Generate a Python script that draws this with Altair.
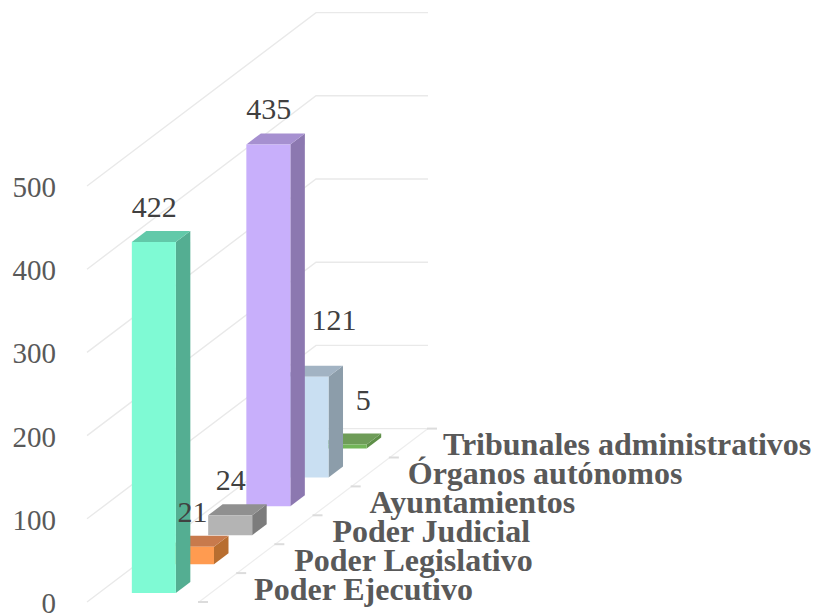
import altair as alt
import pandas as pd

categories = ["Poder Ejecutivo", "Poder Legislativo", "Poder Judicial",
              "Ayuntamientos", "Órganos autónomos", "Tribunales administrativos"]
values = [422, 21, 24, 435, 121, 5]
y_ticks = [0, 100, 200, 300, 400, 500]

front_colors = ["#7FFAD4", "#FF9B50", "#B4B4B4", "#C8AFFB", "#C9DFF2", "#72B558"]
side_colors = ["#54AE92", "#B86E30", "#7C7C7C", "#8C78B0", "#8C9DAA", "#5E8F48"]
top_colors = ["#62C9A9", "#C87A4C", "#909090", "#A690D0", "#A2B3C3", "#6E9C58"]

# oblique projection of the 3D box onto the plot
W, H = 805, 607
PX_X = 38.17          # px per depth slot, horizontally
PX_Y = 28.9           # px per depth slot, vertically
PX_V = 0.832          # px per value unit
OX, OY = 79, 594      # where the floor's front-left corner falls in the plot
FLOOR_W = 112
BAR_A0, BAR_A1 = 33, 77
BAR_D0, BAR_D1 = 0.31, 0.69


def proj(d, a, v):
    return d + a / PX_X, v + d * PX_Y / PX_V


sx = alt.Scale(domain=[-OX / PX_X, (W - OX) / PX_X], range=[0, W], nice=False, zero=False)
sy = alt.Scale(domain=[(OY - H) / PX_V, OY / PX_V], range=[H, 0], nice=False, zero=False)
X = alt.X("x:Q", scale=sx, axis=None)
Y = alt.Y("y:Q", scale=sy, axis=None)

layers = []

# walls
for t in y_ticks:
    pts = [proj(0, 0, t), proj(6, 0, t), proj(6, FLOOR_W, t)]
    df = pd.DataFrame(pts, columns=["x", "y"])
    layers.append(alt.Chart(df).mark_line(color="#E9E9E9", strokeWidth=1.4).encode(X, Y))

# floor edge and category ticks
df = pd.DataFrame([proj(0, FLOOR_W, 0), proj(6, FLOOR_W, 0)], columns=["x", "y"])
layers.append(alt.Chart(df).mark_line(color="#EDEDED", strokeWidth=1.2).encode(X, Y))
for d in range(7):
    df = pd.DataFrame([proj(d, FLOOR_W - 1, 0), proj(d, FLOOR_W + 9, 0)], columns=["x", "y"])
    layers.append(alt.Chart(df).mark_line(color="#DCDCDC", strokeWidth=2).encode(X, Y))

# bars, back to front
for i in reversed(range(len(values))):
    v = values[i]
    d0, d1 = i + BAR_D0, i + BAR_D1
    # side face
    a = proj(d0, BAR_A1, 0)
    b = proj(d1, BAR_A1, 0)
    side = pd.DataFrame([
        {"x": a[0], "y": a[1], "y2": a[1] + v},
        {"x": b[0], "y": b[1], "y2": b[1] + v},
    ])
    layers.append(alt.Chart(side).mark_area(color=side_colors[i]).encode(X, Y, y2="y2:Q"))
    # top face
    fl, bl, fr, br = proj(d0, BAR_A0, v), proj(d1, BAR_A0, v), proj(d0, BAR_A1, v), proj(d1, BAR_A1, v)
    top = pd.DataFrame([
        {"x": fl[0], "y": fl[1], "y2": fl[1]},
        {"x": bl[0], "y": fl[1], "y2": bl[1]},
        {"x": fr[0], "y": fr[1], "y2": br[1]},
        {"x": br[0], "y": br[1], "y2": br[1]},
    ])
    layers.append(alt.Chart(top).mark_area(color=top_colors[i]).encode(X, Y, y2="y2:Q"))
    # front face
    f0 = proj(d0, BAR_A0, 0)
    f1 = proj(d0, BAR_A1, v)
    front = pd.DataFrame([{"x": f0[0], "x2": f1[0], "y": f0[1], "y2": f1[1]}])
    layers.append(alt.Chart(front).mark_rect(color=front_colors[i]).encode(X, Y, x2="x2:Q", y2="y2:Q"))

# axis labels
rows = []
for t in y_ticks:
    p = proj(0, -31, t)
    rows.append({"x": p[0], "y": p[1], "t": str(t)})
layers.append(
    alt.Chart(pd.DataFrame(rows))
    .mark_text(align="right", baseline="middle", font="Liberation Serif", fontSize=29, color="#595959", dy=2)
    .encode(X, Y, text="t:N")
)

# category labels
category_nudge = [0, 2, 2, 1, 1, -2]
for i, c in enumerate(categories):
    p = proj(i + 0.5, FLOOR_W + 36, 0)
    df = pd.DataFrame([{"x": p[0], "y": p[1], "t": c}])
    layers.append(
        alt.Chart(df)
        .mark_text(align="left", baseline="middle", font="Liberation Serif", fontWeight="bold",
                   fontSize=32, color="#595959", dx=category_nudge[i], dy=2)
        .encode(X, Y, text="t:N")
    )

# value labels
label_shift = {4: (27, -22), 5: (18, -9)}
for i, v in enumerate(values):
    p = proj(i + BAR_D1, (BAR_A0 + BAR_A1) / 2 - 14, v)
    dx, dy = label_shift.get(i, (0, 0))
    df = pd.DataFrame([{"x": p[0], "y": p[1], "t": str(v)}])
    layers.append(
        alt.Chart(df)
        .mark_text(align="center", baseline="middle", font="Liberation Serif", fontSize=30,
                   color="#404040", dx=dx, dy=dy - 23)
        .encode(X, Y, text="t:N")
    )

chart = (
    alt.layer(*layers)
    .properties(width=W, height=H, padding=0, autosize=alt.AutoSizeParams(type="none"),
                background="white")
    .configure_view(stroke=None)
)

chart.save("out.html", embed_options={"renderer": "svg", "actions": False})
